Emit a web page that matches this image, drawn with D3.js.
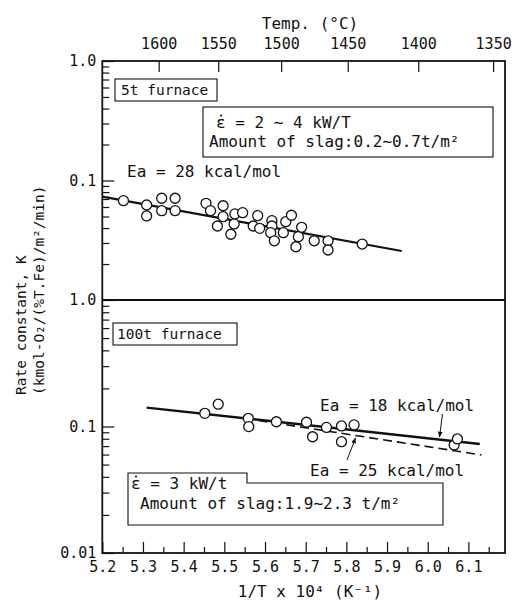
<!DOCTYPE html>
<html><head><meta charset="utf-8">
<script src="https://cdn.jsdelivr.net/npm/d3@7"></script>
<style>
html,body{margin:0;padding:0;background:#fff;}
svg text{font-family:"DejaVu Sans Mono",monospace;fill:#111;}
</style></head>
<body><svg id="c" width="518" height="606"></svg>
<script>
// ---- data ----
const xTicksMajor = [5.2,5.3,5.4,5.5,5.6,5.7,5.8,5.9,6.0,6.1];
const xTicksMinor = [5.25,5.35,5.45,5.55,5.65,5.75,5.85,5.95,6.05,6.15];
const tempTicks = [1600,1550,1500,1450,1400,1350];
const topYLabels = [1, 0.1];
const botYLabels = [1, 0.1, 0.01];
// 5t furnace: [1/T x 1e4, K]
const furnace5tX = [5.252,5.309,5.309,5.346,5.346,5.379,5.379,5.455,5.466,5.483,5.497,5.497,5.516,5.524,5.526,5.545,5.571,5.582,5.587,5.617,5.617,5.614,5.623,5.645,5.651,5.665,5.676,5.682,5.690,5.721,5.755,5.755,5.839];
const furnace5tK = [0.0678,0.0624,0.0505,0.0710,0.0559,0.0710,0.0559,0.0644,0.0559,0.0416,0.0615,0.0498,0.0355,0.0433,0.0525,0.0538,0.0416,0.0508,0.0398,0.0461,0.0416,0.0366,0.0313,0.0366,0.0452,0.0512,0.0279,0.0339,0.0406,0.0313,0.0313,0.0262,0.0294];
const fit5tX = [5.2, 5.936];
const fit5tK = [0.0732, 0.0257];
// 100t furnace
const furnace100tX = [5.452,5.485,5.559,5.560,5.628,5.702,5.717,5.751,5.788,5.788,5.819,6.065,6.073];
const furnace100tK = [0.127,0.150,0.116,0.0998,0.109,0.108,0.0830,0.0984,0.101,0.0758,0.103,0.0714,0.0797];
const fit18X = [5.309, 6.128];
const fit18K = [0.141, 0.0728];
const fit25X = [5.55, 6.132];
const fit25K = [0.116, 0.0596];

// ---- layout ----
const L = 102.3, R = 505, T = 61, M = 300, B = 553;
const svg = d3.select("#c");
const x = d3.scaleLinear().domain([5.2, 6.19]).range([L, R]);
const yTop = d3.scaleLog().domain([0.01, 1]).range([M, T]);
const yBot = d3.scaleLog().domain([0.01, 1]).range([B, M]);
const minorsLog = [0.02,0.03,0.04,0.05,0.06,0.07,0.08,0.09,0.2,0.3,0.4,0.5,0.6,0.7,0.8,0.9];
const fmtY = d => d === 1 ? "1.0" : (d === 0.1 ? "0.1" : "0.01");

function styleAxis(g){
  g.select(".domain").remove();
  g.selectAll("line").attr("stroke","#111").attr("stroke-width",1.2);
}

// frame
svg.append("rect").attr("x",L).attr("y",T).attr("width",R-L).attr("height",B-T)
  .attr("fill","none").attr("stroke","#111").attr("stroke-width",1.8);
svg.append("line").attr("x1",L).attr("x2",R).attr("y1",M).attr("y2",M)
  .attr("stroke","#111").attr("stroke-width",1.8);

// bottom axis
const gxb = svg.append("g").attr("transform",`translate(0,${B})`)
  .call(d3.axisBottom(x).tickValues(xTicksMajor).tickSize(-11).tickPadding(8).tickFormat(d3.format(".1f")));
styleAxis(gxb);
gxb.selectAll("text").attr("font-size",15).attr("font-family","DejaVu Sans Mono").attr("fill","#111");
const gxbm = svg.append("g").attr("transform",`translate(0,${B})`)
  .call(d3.axisBottom(x).tickValues(xTicksMinor).tickSize(-6).tickFormat(""));
styleAxis(gxbm);

// top axis (temperature)
const gxt = svg.append("g").attr("transform",`translate(0,${T})`)
  .call(d3.axisTop(x).tickValues(tempTicks.map(t => 1e4/(t+273.15))).tickSize(-11).tickPadding(12)
    .tickFormat((d,i) => tempTicks[i]));
styleAxis(gxt);
gxt.selectAll("text").attr("font-size",15).attr("font-family","DejaVu Sans Mono").attr("fill","#111");

// left axes
function leftAxis(scale, labels){
  const g = svg.append("g").attr("transform",`translate(${L},0)`)
    .call(d3.axisLeft(scale).tickValues(labels).tickSize(-12).tickPadding(6).tickFormat(fmtY));
  styleAxis(g);
  g.selectAll("text").attr("font-size",15).attr("font-family","DejaVu Sans Mono").attr("fill","#111");
  const gm = svg.append("g").attr("transform",`translate(${L},0)`)
    .call(d3.axisLeft(scale).tickValues(minorsLog).tickSize(-7).tickFormat(""));
  styleAxis(gm);
}
leftAxis(yTop, topYLabels);
leftAxis(yBot, botYLabels);

// axis titles
svg.append("text").attr("x",310).attr("y",29).attr("text-anchor","middle").attr("font-size",16).text("Temp. (°C)");
svg.append("text").attr("x",310).attr("y",597).attr("text-anchor","middle").attr("font-size",16).text("1/T x 10⁴ (K⁻¹)");
svg.append("text").attr("transform","translate(26,395) rotate(-90)").attr("font-size",14.5).text("Rate constant, K");
svg.append("text").attr("transform","translate(44,395) rotate(-90)").attr("font-size",14.5).text("(kmol-O₂/(%T.Fe)/m²/min)");

// lines
const line = (ys) => d3.line().x(d => x(d[0])).y(d => ys(d[1]));
svg.append("path").datum(d3.zip(fit5tX, fit5tK)).attr("d", line(yTop))
  .attr("fill","none").attr("stroke","#111").attr("stroke-width",2.2);
svg.append("path").datum(d3.zip(fit25X, fit25K)).attr("d", line(yBot))
  .attr("fill","none").attr("stroke","#111").attr("stroke-width",1.6).attr("stroke-dasharray","9,5");
svg.append("path").datum(d3.zip(fit18X, fit18K)).attr("d", line(yBot))
  .attr("fill","none").attr("stroke","#111").attr("stroke-width",2.4);

// points
svg.append("g").selectAll("circle").data(d3.zip(furnace5tX, furnace5tK)).join("circle")
  .attr("cx", d => x(d[0])).attr("cy", d => yTop(d[1])).attr("r",5)
  .attr("fill","#fff").attr("stroke","#111").attr("stroke-width",1.3);
svg.append("g").selectAll("circle").data(d3.zip(furnace100tX, furnace100tK)).join("circle")
  .attr("cx", d => x(d[0])).attr("cy", d => yBot(d[1])).attr("r",5)
  .attr("fill","#fff").attr("stroke","#111").attr("stroke-width",1.3);

// annotations
function box(x0,y0,w,h){
  svg.append("rect").attr("x",x0).attr("y",y0).attr("width",w).attr("height",h)
    .attr("fill","#fff").attr("stroke","#111").attr("stroke-width",1.1);
}
function epsText(x0, y0, rest){
  svg.append("text").attr("x",x0).attr("y",y0).attr("font-size",16).text("ε" + rest);
  svg.append("circle").attr("cx",x0+5).attr("cy",y0-12.5).attr("r",1.1).attr("fill","#111");
}
// top panel
box(115,79,102,22);
svg.append("text").attr("x",121).attr("y",95).attr("font-size",14.5).text("5t furnace");
box(203,107,290,50);
epsText(216,128," = 2 ∼ 4 kW/T");
svg.append("text").attr("x",209).attr("y",147).attr("font-size",16).text("Amount of slag:0.2∼0.7t/m²");
svg.append("text").attr("x",127).attr("y",177).attr("font-size",16).text("Ea = 28 kcal/mol");

// bottom panel
box(113,323,124,22);
svg.append("text").attr("x",117).attr("y",339).attr("font-size",14.5).text("100t furnace");
svg.append("path").attr("d","M128,473 H247 V483 H443 V525 H128 Z")
  .attr("fill","#fff").attr("stroke","#111").attr("stroke-width",1.1);
epsText(131,489," = 3 kW/t");
svg.append("text").attr("x",140).attr("y",509).attr("font-size",16).text("Amount of slag:1.9∼2.3 t/m²");
svg.append("text").attr("x",320).attr("y",411).attr("font-size",16).text("Ea = 18 kcal/mol");
svg.append("text").attr("x",310).attr("y",476).attr("font-size",16).text("Ea = 25 kcal/mol");

// arrows
const defs = svg.append("defs");
defs.append("marker").attr("id","ah").attr("viewBox","0 0 10 10").attr("refX",9).attr("refY",5)
  .attr("markerWidth",6).attr("markerHeight",6).attr("orient","auto")
  .append("path").attr("d","M0,1 L10,5 L0,9 Z").attr("fill","#111");
svg.append("line").attr("x1",442.5).attr("y1",414).attr("x2",439.5).attr("y2",437)
  .attr("stroke","#111").attr("stroke-width",1).attr("marker-end","url(#ah)");
svg.append("line").attr("x1",347).attr("y1",460).attr("x2",355.5).attr("y2",438)
  .attr("stroke","#111").attr("stroke-width",1).attr("marker-end","url(#ah)");
</script></body></html>
